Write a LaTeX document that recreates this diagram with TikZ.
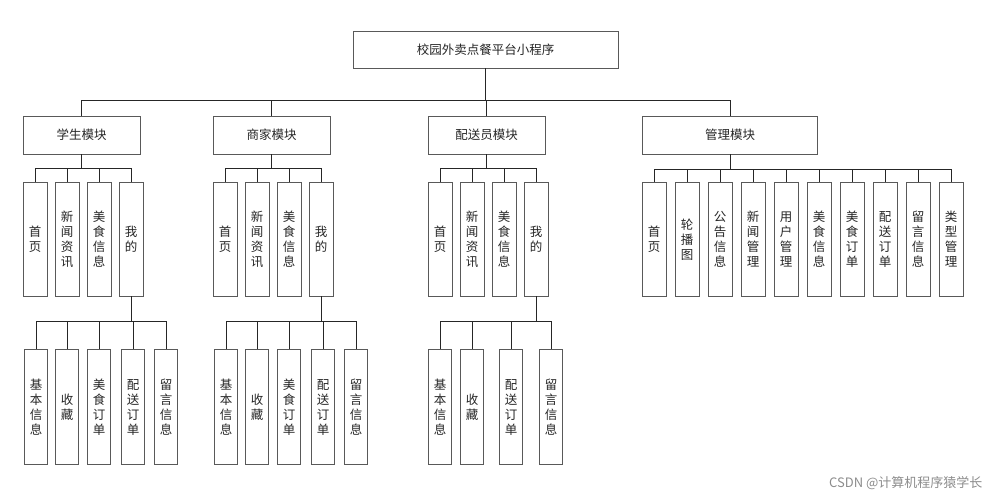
\documentclass[tikz,border=0pt]{standalone}
\usepackage{fontspec}
\setmainfont{Noto Sans CJK SC}
\begin{document}
\begin{tikzpicture}[x=1pt,y=-1pt,
  box/.style={draw=black!65,line width=0.8pt,fill=white,inner sep=0pt,font=\fontsize{12.5}{15}\selectfont,text=black!85},
  leaf/.style={box,minimum width=24pt,minimum height=114pt,align=center},
  lleaf/.style={box,minimum width=23pt,minimum height=115pt,align=center},
  wire/.style={draw=black!85,line width=1pt}]
\useasboundingbox (0,0) rectangle (992,500);
\node[box,minimum width=265pt,minimum height=37pt] (root) at (485.5,49.5) {校园外卖点餐平台小程序};
\node[box,minimum width=117pt,minimum height=38pt] (m1) at (81.5,135) {学生模块};
\node[box,minimum width=117pt,minimum height=38pt] (m2) at (271.5,135) {商家模块};
\node[box,minimum width=117pt,minimum height=38pt] (m3) at (486.5,135) {配送员模块};
\node[box,minimum width=175pt,minimum height=38pt] (m4) at (730,135) {管理模块};
\foreach \m in {m1,m2,m3,m4} \draw[wire] (root.south) -- (root.south |- 0,101) -| (\m.north);
% first-level leaves
\foreach \p/\x in {a/35,b/225,c/440}{
  \node[leaf] (\p1) at (\x,239) {首\\页};
  \node[leaf] (\p2) at (\x+32,239) {新\\闻\\资\\讯};
  \node[leaf] (\p3) at (\x+64,239) {美\\食\\信\\息};
  \node[leaf] (\p4) at (\x+96,239) {我\\的};
}
\foreach \p/\m in {a/m1,b/m2,c/m3}
  \foreach \i in {1,2,3,4} \draw[wire] (\m.south) -- (\m.south |- 0,168) -| (\p\i.north);
\foreach \t [count=\i] in {首\\页,轮\\播\\图,公\\告\\信\\息,新\\闻\\管\\理,用\\户\\管\\理,美\\食\\信\\息,美\\食\\订\\单,配\\送\\订\\单,留\\言\\信\\息,类\\型\\管\\理}{
  \node[leaf] (d\i) at ({654+33*(\i-1)},239.5) {\t};
  \draw[wire] (m4.south) -- (m4.south |- 0,169) -| (d\i.north);
}
% second-level leaves
\foreach \p/\x in {a/36,b/226}{
  \node[lleaf] (\p5) at (\x,407) {基\\本\\信\\息};
  \node[lleaf] (\p6) at (\x+31,407) {收\\藏};
  \node[lleaf] (\p7) at (\x+63,407) {美\\食\\订\\单};
  \node[lleaf] (\p8) at (\x+97,407) {配\\送\\订\\单};
  \node[lleaf] (\p9) at (\x+130,407) {留\\言\\信\\息};
  \foreach \i in {5,...,9} \draw[wire] (\p4.south) -- (\p4.south |- 0,321) -| (\p\i.north);
}
\node[lleaf] (c5) at (440,407) {基\\本\\信\\息};
\node[lleaf] (c6) at (472,407) {收\\藏};
\node[lleaf] (c7) at (511,407) {配\\送\\订\\单};
\node[lleaf] (c8) at (551,407) {留\\言\\信\\息};
\foreach \i in {5,...,8} \draw[wire] (c4.south) -- (c4.south |- 0,321) -| (c\i.north);
\node[text=black!45,font=\fontsize{13}{15}\selectfont,anchor=east] (wm) at (986,483) {CSDN @计算机程序猿学长};
\end{tikzpicture}
\end{document}
